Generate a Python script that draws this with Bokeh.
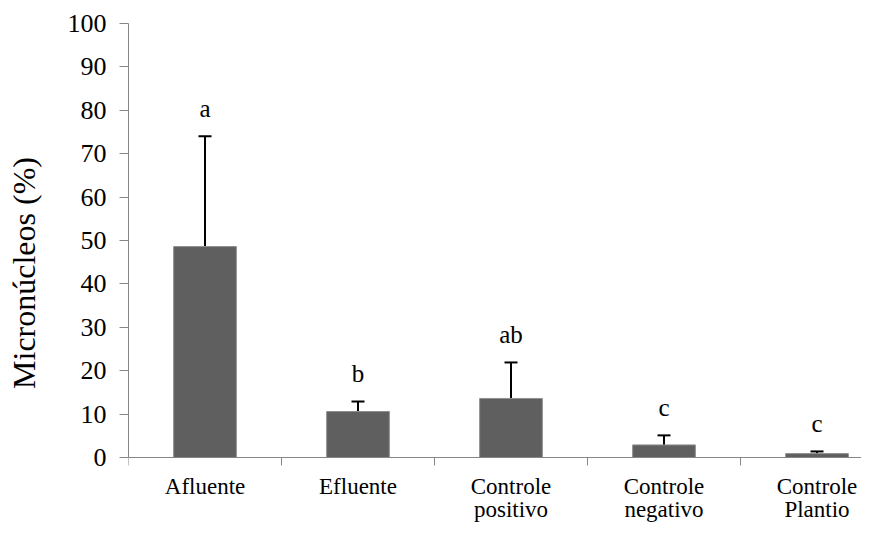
import numpy as np
from bokeh.plotting import figure
from bokeh.models import Range1d, FixedTicker, ColumnDataSource, Whisker, TeeHead
from bokeh.core.properties import value
from bokeh.embed import file_html
from bokeh.resources import INLINE

categories = ["Afluente", "Efluente", "Controle\npositivo", "Controle\nnegativo", "Controle\nPlantio"]
means = [48.6, 10.6, 13.6, 2.9, 0.9]
errors = [25.4, 2.3, 8.3, 2.2, 0.5]
letters = ["a", "b", "ab", "c", "c"]
y_ticks = [0, 10, 20, 30, 40, 50, 60, 70, 80, 90, 100]

x = np.arange(len(categories)) + 0.5
upper = [m + e for m, e in zip(means, errors)]
line1 = [c.split("\n")[0] for c in categories]
line2 = [c.split("\n")[1] if "\n" in c else "" for c in categories]

src = ColumnDataSource(dict(x=x, top=means, upper=upper, letters=letters,
                            line1=line1, line2=line2, zero=[0] * len(categories)))

FONT = "Liberation Serif"

# frame: top 23 px, axis (y=0) at 457 px, frame extends to canvas bottom
W, H = 861, 522
LEFT, TOP, AXIS_Y = 128, 23, 457
px_per_unit = (AXIS_Y - TOP) / 100
y_start = -(H - AXIS_Y) / px_per_unit
cat_px = 153
x_end = (W - LEFT) / cat_px

p = figure(width=W, height=H, output_backend="svg", toolbar_location=None,
           x_range=Range1d(0, x_end), y_range=Range1d(y_start, 100),
           min_border_left=LEFT, min_border_right=0, min_border_top=TOP, min_border_bottom=0)
p.outline_line_color = None
p.xgrid.visible = False
p.ygrid.visible = False
p.background_fill_color = "white"

p.vbar(x="x", top="top", width=0.41, bottom=0, source=src,
       fill_color="#5f5f5f", line_color="#8f8f8f", line_width=1)

w = Whisker(base="x", lower="top", upper="upper", source=src, dimension="height",
            line_color="black", line_width=2,
            upper_head=TeeHead(size=13, line_color="black", line_width=2),
            lower_head=None)
p.add_layout(w)

p.text(x="x", y="upper", text="letters", source=src, text_align="center",
       text_baseline="alphabetic", y_offset=-28, text_font=value(FONT),
       text_font_size="25px", text_color="black")

# category names under the axis
for col, off in (("line1", 29), ("line2", 52)):
    p.text(x="x", y="zero", text=col, source=src, y_offset=off,
           text_align="center", text_baseline="alphabetic",
           text_font=value(FONT), text_font_size="23px", text_color="black")

# x axis at y = 0, boundary tick marks
p.xaxis.fixed_location = 0
p.xaxis.ticker = FixedTicker(ticks=list(x), minor_ticks=list(range(len(categories) + 1)))
p.xaxis.major_label_overrides = {float(xx): "" for xx in x}
p.xaxis.major_label_text_font_size = "1px"
p.xaxis.major_label_standoff = 0
p.xaxis.major_tick_line_color = None
p.xaxis.minor_tick_line_color = "#868686"
p.xaxis.minor_tick_out = 8
p.xaxis.minor_tick_in = 0
p.xaxis.axis_line_color = "#868686"

# y axis
p.yaxis.bounds = (0, 100)
p.yaxis.ticker = FixedTicker(ticks=y_ticks, minor_ticks=[])
p.yaxis.axis_line_color = "#868686"
p.yaxis.major_tick_line_color = "#868686"
p.yaxis.major_tick_out = 9
p.yaxis.major_tick_in = 0
p.yaxis.major_label_text_font = FONT
p.yaxis.major_label_text_font_size = "26px"
p.yaxis.major_label_text_color = "black"
p.yaxis.major_label_standoff = 13
p.yaxis.axis_label = "Micronúcleos (%)"
p.yaxis.axis_label_text_font = FONT
p.yaxis.axis_label_text_font_size = "32px"
p.yaxis.axis_label_text_font_style = "normal"
p.yaxis.axis_label_text_color = "black"
p.yaxis.axis_label_standoff = 23

open("out.html", "w").write(file_html(p, INLINE))
